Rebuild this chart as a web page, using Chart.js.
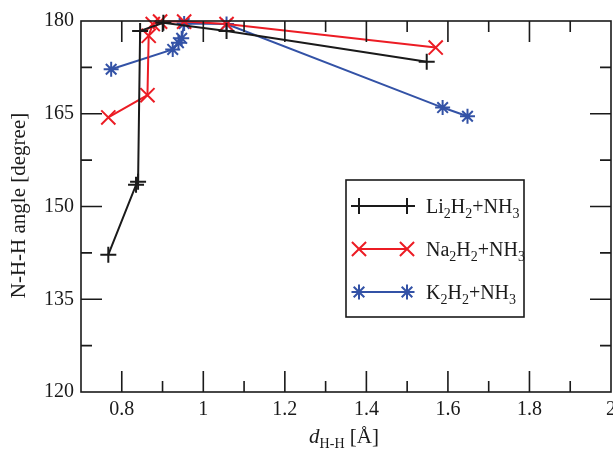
<!DOCTYPE html>
<html>
<head>
<meta charset="utf-8">
<script src="https://cdn.jsdelivr.net/npm/chart.js@4.4.1/dist/chart.umd.min.js"></script>
<style>
  html, body { margin: 0; padding: 0; background: #fff; }
  #wrap { width: 613px; height: 450px; position: relative; }
</style>
</head>
<body>
<div id="wrap"><canvas id="c" width="613" height="450"></canvas></div>
<script>
// ---- data ----
const liX = [0.767, 0.835, 0.840, 0.845, 0.902, 1.057, 1.548];
const liY = [142.2, 153.5, 154.0, 178.4, 179.7, 178.4, 173.4];

const naX = [0.767, 0.863, 0.866, 0.876, 0.894, 0.953, 1.057, 1.570];
const naY = [164.4, 168.0, 177.6, 179.5, 179.9, 179.9, 179.5, 175.7];

const kX = [0.774, 0.925, 0.939, 0.947, 0.953, 1.057, 1.587, 1.648];
const kY = [172.2, 175.4, 176.5, 177.2, 179.6, 179.5, 166.0, 164.6];

const xTicks = [0.8, 1, 1.2, 1.4, 1.6, 1.8, 2];
const xMinor = [0.9, 1.1, 1.3, 1.5, 1.7, 1.9];
const yTicks = [120, 135, 150, 165, 180];
const yMinor = [127.5, 142.5, 157.5, 172.5];

const seriesNames = [
  [{t:'Li'},{t:'2',sub:true},{t:'H'},{t:'2',sub:true},{t:'+NH'},{t:'3',sub:true}],
  [{t:'Na'},{t:'2',sub:true},{t:'H'},{t:'2',sub:true},{t:'+NH'},{t:'3',sub:true}],
  [{t:'K'},{t:'2',sub:true},{t:'H'},{t:'2',sub:true},{t:'+NH'},{t:'3',sub:true}]
];
const xTitle = [{t:'d',italic:true},{t:'H-H',sub:true},{t:' [Å]'}];
const yTitle = 'N-H-H angle [degree]';

const colors = ['#1a1a1a', '#ec1c24', '#3352a6'];
const styles = ['cross', 'crossRot', 'star'];
const radii = [8, 10, 7.5];

const FONT = '"Liberation Serif", "Times New Roman", serif';

function pts(xs, ys) { return xs.map((x, i) => ({x: x, y: ys[i]})); }

function drawRich(ctx, parts, x, y, size, align) {
  const subSize = Math.round(size * 0.68);
  const fontOf = p => (p.italic ? 'italic ' : '') + (p.sub ? subSize : size) + 'px ' + FONT;
  let total = 0;
  parts.forEach(p => { ctx.font = fontOf(p); total += ctx.measureText(p.t).width; });
  let cx = align === 'center' ? x - total / 2 : x;
  ctx.textAlign = 'left';
  ctx.textBaseline = 'alphabetic';
  parts.forEach(p => {
    ctx.font = fontOf(p);
    ctx.fillText(p.t, cx, y + (p.sub ? size * 0.25 : 0));
    cx += ctx.measureText(p.t).width;
  });
}

function drawMarker(ctx, style, x, y, r) {
  ctx.beginPath();
  const d = r * Math.SQRT1_2;
  if (style === 'cross' || style === 'star') {
    ctx.moveTo(x - r, y); ctx.lineTo(x + r, y);
    ctx.moveTo(x, y - r); ctx.lineTo(x, y + r);
  }
  if (style === 'crossRot' || style === 'star') {
    ctx.moveTo(x - d, y - d); ctx.lineTo(x + d, y + d);
    ctx.moveTo(x + d, y - d); ctx.lineTo(x - d, y + d);
  }
  ctx.stroke();
}

const decor = {
  id: 'decor',
  afterDraw(chart) {
    const ctx = chart.ctx;
    const a = chart.chartArea;
    const xs = chart.scales.x, ys = chart.scales.y;
    ctx.save();
    ctx.strokeStyle = '#1a1a1a';
    ctx.fillStyle = '#1a1a1a';
    ctx.lineWidth = 1.6;
    ctx.lineCap = 'butt';
    // frame
    ctx.strokeRect(a.left, a.top, a.right - a.left, a.bottom - a.top);
    // inward ticks on all four sides
    const MAJ = 21, MIN = 11;
    ctx.beginPath();
    xTicks.concat(xMinor).forEach(v => {
      const len = xMinor.includes(v) ? MIN : MAJ;
      const px = xs.getPixelForValue(v);
      if (px <= a.left + 1 || px >= a.right - 1) return;
      ctx.moveTo(px, a.bottom); ctx.lineTo(px, a.bottom - len);
      ctx.moveTo(px, a.top); ctx.lineTo(px, a.top + len);
    });
    yTicks.concat(yMinor).forEach(v => {
      const len = yMinor.includes(v) ? MIN : MAJ;
      const py = ys.getPixelForValue(v);
      if (py <= a.top + 1 || py >= a.bottom - 1) return;
      ctx.moveTo(a.left, py); ctx.lineTo(a.left + len, py);
      ctx.moveTo(a.right, py); ctx.lineTo(a.right - len, py);
    });
    ctx.stroke();

    // legend box
    ctx.lineWidth = 1.6;
    ctx.strokeRect(346, 180, 178, 137);
    const rows = [206, 249, 292];
    rows.forEach((ry, i) => {
      ctx.strokeStyle = colors[i];
      ctx.lineWidth = 2;
      ctx.beginPath();
      ctx.moveTo(359, ry); ctx.lineTo(407, ry);
      ctx.stroke();
      drawMarker(ctx, styles[i], 359, ry, radii[i]);
      drawMarker(ctx, styles[i], 407, ry, radii[i]);
      ctx.fillStyle = '#1a1a1a';
      drawRich(ctx, seriesNames[i], 426, ry + 7, 20, 'left');
    });

    // x title
    ctx.fillStyle = '#1a1a1a';
    drawRich(ctx, xTitle, (a.left + a.right) / 2 - 2, 443, 21, 'center');

    // y title
    ctx.save();
    ctx.translate(19, (a.top + a.bottom) / 2 - 1);
    ctx.rotate(-Math.PI / 2);
    ctx.font = '21px ' + FONT;
    ctx.textAlign = 'center';
    ctx.textBaseline = 'middle';
    ctx.fillText(yTitle, 0, 0);
    ctx.restore();

    ctx.restore();
  }
};

const mk = (label, xs, ys, i) => ({
  label: label,
  data: pts(xs, ys),
  borderColor: colors[i],
  backgroundColor: colors[i],
  borderWidth: 2,
  pointStyle: styles[i],
  pointRadius: radii[i],
  pointHoverRadius: radii[i],
  pointBorderWidth: 2,
  pointBorderColor: colors[i],
  tension: 0,
  fill: false,
  clip: false
});

new Chart(document.getElementById('c'), {
  type: 'line',
  data: {
    datasets: [
      mk('Li2H2+NH3', liX, liY, 0),
      mk('Na2H2+NH3', naX, naY, 1),
      mk('K2H2+NH3', kX, kY, 2)
    ]
  },
  options: {
    responsive: false,
    animation: false,
    devicePixelRatio: 1,
    layout: { autoPadding: false, padding: { top: 21, right: 2, left: 0, bottom: 0 } },
    plugins: { legend: { display: false }, tooltip: { enabled: false }, title: { display: false } },
    scales: {
      x: {
        type: 'linear',
        min: 0.7, max: 2,
        grid: { display: false, drawTicks: false },
        border: { display: false },
        afterBuildTicks: s => { s.ticks = xTicks.map(v => ({ value: v })); },
        afterFit: s => { s.height = 58; s.paddingLeft = 0; s.paddingRight = 0; },
        ticks: {
          autoSkip: false, maxRotation: 0, minRotation: 0,
          padding: 6,
          color: '#1a1a1a',
          font: { family: FONT, size: 20 },
          callback: v => String(v)
        }
      },
      y: {
        type: 'linear',
        min: 120, max: 180,
        grid: { display: false, drawTicks: false },
        border: { display: false },
        afterBuildTicks: s => { s.ticks = yTicks.map(v => ({ value: v })); },
        afterFit: s => { s.width = 81; s.paddingTop = 0; s.paddingBottom = 0; },
        ticks: {
          autoSkip: false,
          padding: 7,
          color: '#1a1a1a',
          font: { family: FONT, size: 20 },
          callback: v => String(v)
        }
      }
    }
  },
  plugins: [decor]
});
</script>
</body>
</html>
